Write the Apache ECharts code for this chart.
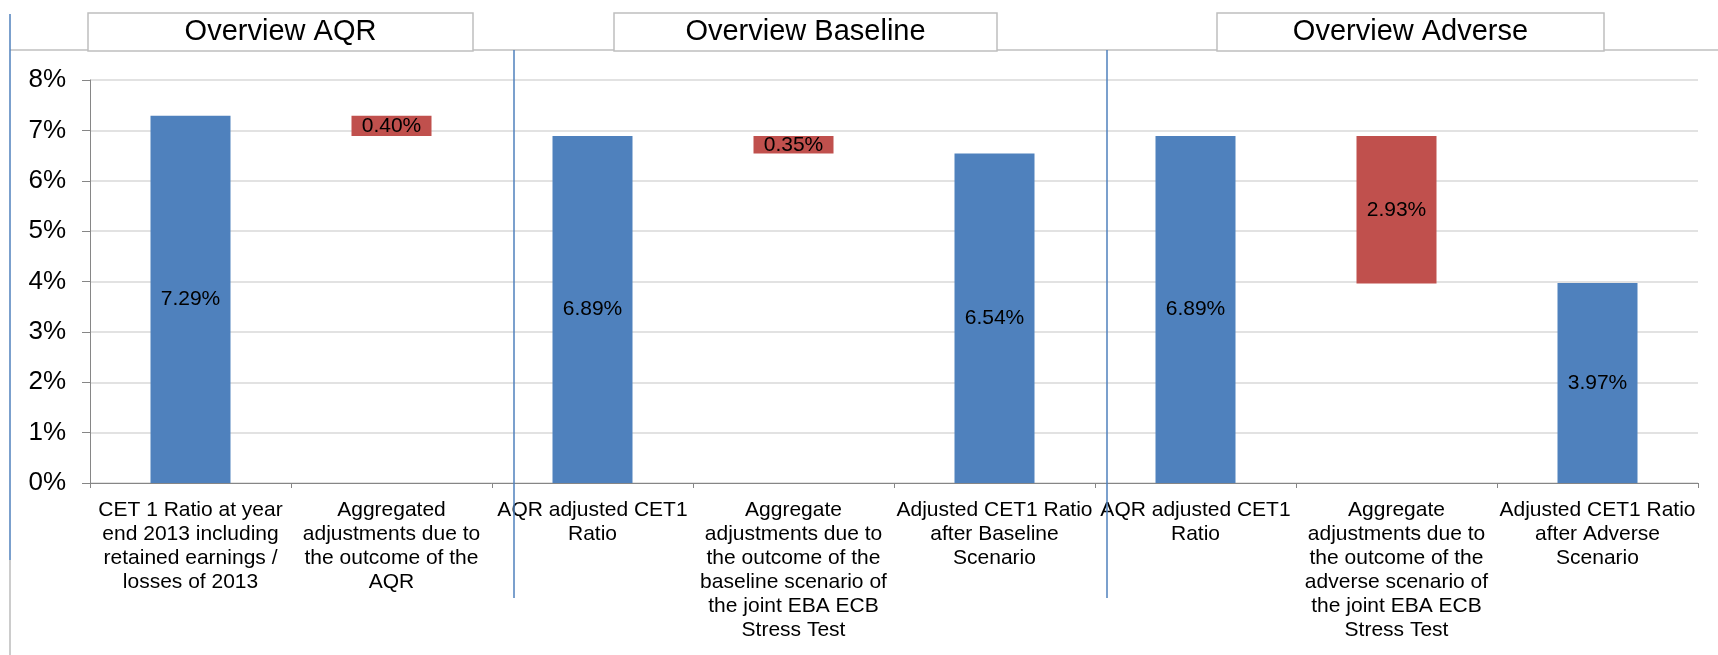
<!DOCTYPE html>
<html>
<head>
<meta charset="utf-8">
<script src="https://cdn.jsdelivr.net/npm/echarts@6/dist/echarts.min.js"></script>
<style>
html,body{margin:0;padding:0;background:#fff;}
#chart{width:1718px;height:655px;}
</style>
</head>
<body>
<div id="chart"></div>
<script>
const categories = [
  'CET 1 Ratio at year\nend 2013 including\nretained earnings /\nlosses of 2013',
  'Aggregated\nadjustments due to\nthe outcome of the\nAQR',
  'AQR adjusted CET1\nRatio',
  'Aggregate\nadjustments due to\nthe outcome of the\nbaseline scenario of\nthe joint EBA ECB\nStress Test',
  'Adjusted CET1 Ratio\nafter Baseline\nScenario',
  'AQR adjusted CET1\nRatio',
  'Aggregate\nadjustments due to\nthe outcome of the\nadverse scenario of\nthe joint EBA ECB\nStress Test',
  'Adjusted CET1 Ratio\nafter Adverse\nScenario'
];
const baseValues   = ['-', 6.89, '-', 6.54, '-', '-', 3.96, '-'];
const changeValues = ['-', 0.40, '-', 0.35, '-', '-', 2.93, '-'];
const totalValues  = [7.29, '-', 6.89, '-', 6.54, 6.89, '-', 3.97];
const yTicks = [0, 1, 2, 3, 4, 5, 6, 7, 8];
const panelTitles = ['Overview AQR', 'Overview Baseline', 'Overview Adverse'];

const FONT = "'Liberation Sans', Arial, sans-serif";
const BLUE = '#4F81BD';
const RED = '#C0504D';

const chart = echarts.init(document.getElementById('chart'));

const boxes = [[88, 473], [614, 997], [1217, 1604]];
const graphics = [];
graphics.push({type:'line', shape:{x1:10, y1:50, x2:1718, y2:50}, style:{stroke:'#BFBFBF', lineWidth:1.5}, z:1});
graphics.push({type:'line', shape:{x1:10, y1:14, x2:10, y2:560}, style:{stroke:BLUE, lineWidth:1.5}, z:1});
graphics.push({type:'line', shape:{x1:10, y1:560, x2:10, y2:655}, style:{stroke:'#999', lineWidth:1}, z:1});
[514, 1107].forEach(x => {
  graphics.push({type:'line', shape:{x1:x, y1:50, x2:x, y2:598}, style:{stroke:BLUE, lineWidth:1.5}, z:100});
});
boxes.forEach((b, i) => {
  graphics.push({type:'rect', shape:{x:b[0], y:13, width:b[1]-b[0], height:38},
    style:{fill:'#fff', stroke:'#BFBFBF', lineWidth:1.5}, z:2});
  graphics.push({type:'text', x:(b[0]+b[1])/2, y:32,
    style:{text:panelTitles[i], fill:'#000', font:'29px ' + FONT, textAlign:'center', textVerticalAlign:'middle'}, z:3});
});

const lbl = {
  show: true, position: 'inside', color: '#000', fontSize: 21, fontFamily: FONT,
  formatter: p => (typeof p.value === 'number' ? p.value.toFixed(2) + '%' : '')
};

chart.setOption({
  animation: false,
  backgroundColor: '#fff',
  grid: {left: 90, right: 20, top: 80, bottom: 172, containLabel: false},
  xAxis: {
    type: 'category',
    data: categories,
    axisLine: {show: true, lineStyle: {color: '#868686', width: 1}},
    axisTick: {show: true, length: 5, interval: 0, lineStyle: {color: '#868686'}},
    axisLabel: {interval: 0, color: '#000', fontSize: 21, lineHeight: 24, fontFamily: FONT, margin: 15}
  },
  yAxis: {
    type: 'value',
    min: yTicks[0], max: yTicks[yTicks.length - 1], interval: 1,
    axisLine: {show: true, lineStyle: {color: '#868686', width: 1}},
    axisTick: {show: true, length: 8, lineStyle: {color: '#868686'}},
    axisLabel: {color: '#000', fontSize: 26, fontFamily: FONT, margin: 24, formatter: '{value}%'},
    splitLine: {show: true, lineStyle: {color: '#D9D9D9', width: 1.5}}
  },
  graphic: graphics,
  series: [
    {name: 'base', type: 'bar', stack: 'w', barWidth: 80, data: baseValues,
      itemStyle: {color: 'transparent'}, label: {show: false}, silent: true},
    {name: 'change', type: 'bar', stack: 'w', barWidth: 80, data: changeValues,
      itemStyle: {color: RED}, label: lbl},
    {name: 'total', type: 'bar', stack: 'w', barWidth: 80, data: totalValues,
      itemStyle: {color: BLUE}, label: lbl}
  ]
});
</script>
</body>
</html>
